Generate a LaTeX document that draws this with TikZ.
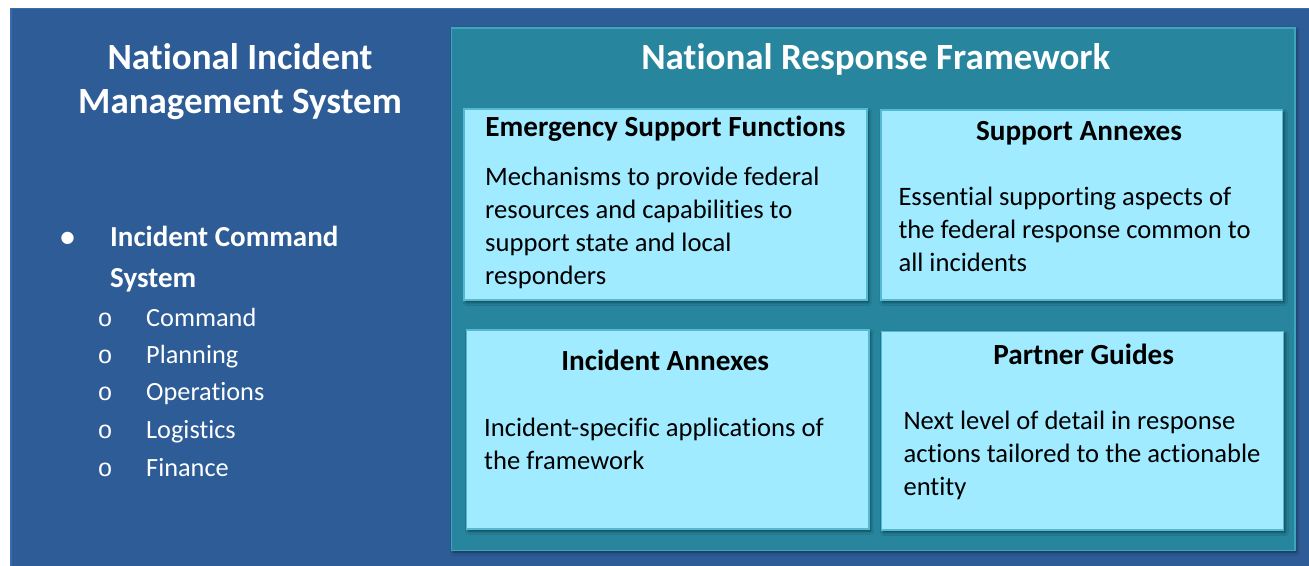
\documentclass[tikz,border=0pt]{standalone}
\usepackage{fontspec}
\setmainfont{Carlito}[Ligatures={NoCommon}]
\newfontfamily\monof{Liberation Mono}
\usetikzlibrary{shadows.blur}
\definecolor{bgblue}{HTML}{2D5C96}
\definecolor{bgedge}{HTML}{3A6BB0}
\definecolor{tealpanel}{HTML}{27869E}
\definecolor{tealedge}{HTML}{3FA4BE}
\definecolor{boxfill}{HTML}{A0EBFF}
\definecolor{boxedge}{HTML}{55B9D3}
\tikzset{
  panel/.style={draw=tealedge, fill=tealpanel, line width=1.5pt, anchor=north west, inner sep=0,
    blur shadow={shadow xshift=2pt, shadow yshift=-2pt, shadow blur radius=3pt, shadow opacity=45}},
  infobox/.style={draw=boxedge, fill=boxfill, line width=1.5pt, anchor=north west, inner sep=0,
    blur shadow={shadow xshift=2pt, shadow yshift=-2.5pt, shadow blur radius=3pt, shadow opacity=50}},
  bigtitle/.style={text=white, font=\bfseries\fontsize{37}{44}\selectfont, inner sep=0, align=center},
  boxtitle/.style={text=black, font=\bfseries\fontsize{29.2}{34}\selectfont, inner sep=0, anchor=base},
  boxbody/.style={text=black, font=\fontsize{26.6}{32.8}\selectfont, inner sep=0, anchor=base west, align=left},
  listmain/.style={text=white, font=\bfseries\fontsize{29}{41.3}\selectfont, inner sep=0, anchor=base west, align=left},
  listsub/.style={text=white, font=\fontsize{26.3}{30}\selectfont, inner sep=0, anchor=base west},
  subbullet/.style={text=white, font=\monof\fontsize{25}{30}\selectfont, inner sep=0, anchor=base},
}
\begin{document}
\begin{tikzpicture}[x=1pt,y=-1pt]
\useasboundingbox (0,0) rectangle (1309,565);
\fill[white] (0,0) rectangle (1309,565);
\draw[fill=bgblue, draw=bgedge, line width=1.5pt] (11,8.5) rectangle (1320,575);

% left: NIMS
\node[bigtitle, anchor=base] (nims1) at (240,69.3) {National Incident};
\node[bigtitle, anchor=base] (nims2) at (240,113.3) {Management System};
\node[text=white, font=\bfseries\fontsize{29}{34}\selectfont, inner sep=0, anchor=base] (b0) at (67.7,246) {\textbullet};
\node[listmain] (ics) at (110,287.3) {Incident Command\\System};
\node[subbullet] (o1) at (105,326) {o};
\node[listsub] (s1) at (146,326) {Command};
\node[subbullet] (o2) at (105,363.3) {o};
\node[listsub] (s2) at (146,363.3) {Planning};
\node[subbullet] (o3) at (105,400.7) {o};
\node[listsub] (s3) at (146,400.7) {Operations};
\node[subbullet] (o4) at (105,438) {o};
\node[listsub] (s4) at (146,438) {Logistics};
\node[subbullet] (o5) at (105,476) {o};
\node[listsub] (s5) at (146,476) {Finance};

% right: NRF panel
\node[panel, minimum width=843.3pt, minimum height=522.5pt] (nrf) at (450.7,27) {};
\node[bigtitle, anchor=base] (nrft) at (875.8,69.3) {National Response Framework};

\node[infobox, minimum width=402.7pt, minimum height=191pt] (esf) at (463.3,108.3) {};
\node[infobox, minimum width=401.7pt, minimum height=190pt] (sa) at (880,109.3) {};
\node[infobox, minimum width=402.3pt, minimum height=199pt] (ia) at (465.7,329) {};
\node[infobox, minimum width=402pt, minimum height=198.6pt] (pg) at (880.7,330.7) {};

\node[boxtitle] (esft) at (665.5,136.7) {Emergency Support Functions};
\node[boxbody] (esfb) at (485,284.3) {Mechanisms to provide federal\\resources and capabilities to\\support state and local\\responders};

\node[boxtitle] (sat) at (1079,140) {Support Annexes};
\node[boxbody] (sab) at (898.3,271) {Essential supporting aspects of\\the federal response common to\\all incidents};

\node[boxtitle] (iat) at (665.2,370) {Incident Annexes};
\node[boxbody] (iab) at (484,469.3) {Incident-specific applications of\\the framework};

\node[boxtitle] (pgt) at (1083.7,364.3) {Partner Guides};
\node[boxbody] (pgb) at (903.3,495) {Next level of detail in response\\actions tailored to the actionable\\entity};
\end{tikzpicture}
\end{document}
